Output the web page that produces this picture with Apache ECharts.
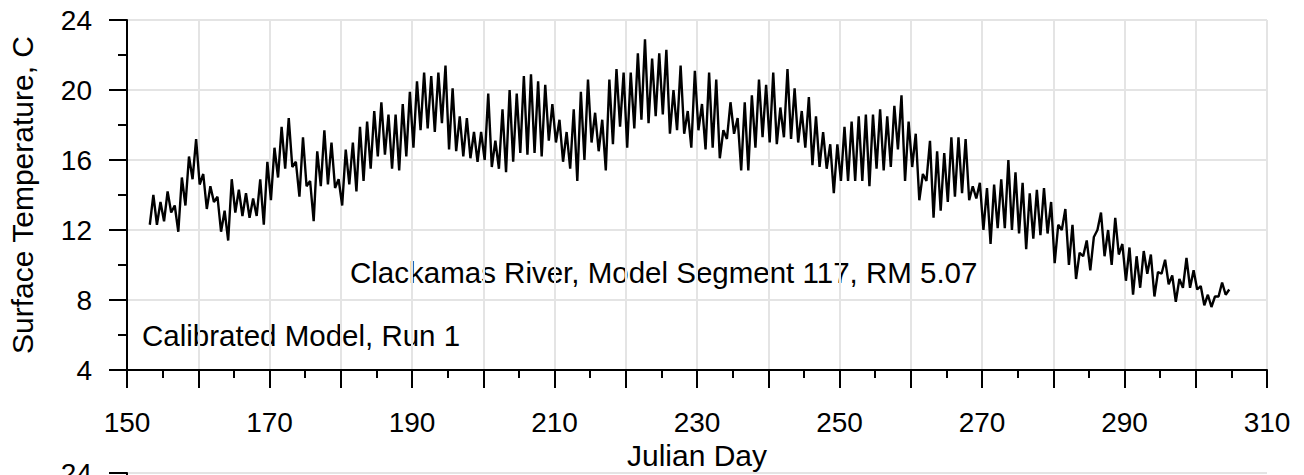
<!DOCTYPE html>
<html>
<head>
<meta charset="utf-8">
<script src="https://cdn.jsdelivr.net/npm/echarts@6/dist/echarts.min.js"></script>
<style>
html,body{margin:0;padding:0;background:#fff;}
#chart{width:1304px;height:475px;}
</style>
</head>
<body>
<div id="chart"></div>
<script>
// ---- data ----
const startDay = 153; // first Julian day of the record
// daily minimum surface temperature (C), days 153..304
const dailyLow = [
  12.3,12.3,12.5,13.0,11.9,13.4,14.9,14.6,13.2,13.6, // 153-162
  11.9,11.4,13.0,12.8,12.7,12.8,12.3,13.7,15.0,15.5, // 163-172
  15.6,13.9,14.5,12.5,14.5,14.6,14.4,13.4,14.6,14.2, // 173-182
  14.8,15.5,16.2,16.3,15.5,15.4,16.2,16.7,17.7,17.8, // 183-192
  17.6,18.1,16.6,16.5,16.2,16.1,15.9,16.0,15.6,15.5, // 193-202
  15.3,15.9,16.4,16.3,16.4,16.2,17.1,17.0,15.9,15.5, // 203-212
  14.8,16.0,17.0,16.5,15.4,16.9,17.9,16.7,17.8,18.3, // 213-222
  18.1,18.5,18.6,17.5,17.7,17.5,16.7,17.7,16.6,16.7, // 223-232
  16.1,17.2,17.5,15.4,15.4,16.7,17.3,17.0,16.9,17.3, // 233-242
  17.2,17.0,16.7,15.7,15.6,15.5,14.1,14.8,14.8,14.8, // 243-252
  14.8,14.5,15.5,15.4,15.6,16.6,14.8,15.6,13.7,14.8, // 253-262
  12.7,13.1,13.6,13.9,14.1,13.7,13.8,12.0,11.2,12.1, // 263-272
  12.1,12.0,11.8,10.9,11.5,11.7,11.8,10.1,12.0,10.0, // 273-282
  9.2,10.5,9.7,12.0,10.5,10.0,10.6,9.1,8.3,8.7,      // 283-292
  9.5,8.2,9.5,8.9,7.9,8.7,8.7,8.6,7.7,7.6,           // 293-302
  8.2,8.3                                            // 303-304
];
// daily maximum surface temperature (C), days 153..304
const dailyHigh = [
  14.0,13.6,14.2,13.4,15.0,16.2,17.2,15.2,14.5,13.9, // 153-162
  13.1,14.9,14.3,14.1,13.8,14.9,15.9,16.7,17.9,18.4, // 163-172
  15.9,17.3,14.8,16.5,17.7,17.0,14.9,16.6,17.0,17.9, // 173-182
  18.2,18.8,19.3,18.6,18.6,19.2,19.9,20.5,21.0,20.8, // 183-192
  21.0,21.4,20.1,18.5,18.4,17.6,17.6,19.8,17.1,18.9, // 193-202
  20.0,19.8,20.8,20.9,20.5,20.3,19.2,18.3,17.6,18.9, // 203-212
  19.9,20.6,18.7,18.3,20.6,21.2,21.0,21.0,22.1,22.9, // 213-222
  21.8,22.1,22.3,20.0,21.4,18.8,21.1,19.2,21.0,20.6, // 223-232
  17.7,19.3,18.4,19.3,19.7,20.6,20.3,21.0,19.0,21.2, // 233-242
  20.1,18.8,19.6,18.5,17.6,16.9,16.9,17.9,18.2,18.5, // 243-252
  18.6,18.6,18.9,18.5,19.1,19.7,18.2,17.5,15.2,17.1, // 253-262
  16.5,16.4,17.3,17.3,17.2,14.5,14.7,14.4,14.6,14.9, // 263-272
  16.0,15.3,14.7,14.1,14.3,14.4,13.6,12.3,13.2,12.3, // 273-282
  10.7,11.4,11.6,13.0,12.0,12.7,11.2,11.0,10.5,10.8, // 283-292
  10.6,9.6,10.3,9.4,9.2,10.4,9.7,8.8,8.3,8.2,        // 293-302
  9.0,8.6                                            // 303-304
];
const xRange = [150, 310];
const yRange = [4, 24];
const xTitle = 'Julian Day';
const yTitle = 'Surface Temperature, C';
const noteRiver = 'Clackamas River, Model Segment 117, RM 5.07';
const noteRun = 'Calibrated Model, Run 1';

// ---- build the series (min in the morning, max in the afternoon) ----
const linePoints = [];
dailyLow.forEach((lo, i) => {
  const d = startDay + i;
  linePoints.push([d + 0.2, lo]);
  linePoints.push([d + 0.7, dailyHigh[i]]);
});

const FONT = '"Liberation Sans", Arial, sans-serif';
const GRID = '#e4e4e4';
const chart = echarts.init(document.getElementById('chart'), null, {renderer: 'svg'});

chart.setOption({
  animation: false,
  backgroundColor: '#fff',
  grid: [
    {left: 127, right: 37, top: 20, height: 350, containLabel: false, outerBoundsMode: 'none'},
    {left: 127, right: 37, top: 473, height: 350, containLabel: false, outerBoundsMode: 'none'}
  ],
  xAxis: [{
    gridIndex: 0, type: 'value', min: xRange[0], max: xRange[1], interval: 10,
    name: xTitle, nameLocation: 'middle', nameGap: 68,
    nameTextStyle: {fontFamily: FONT, fontSize: 30, color: '#000'},
    axisLine: {show: true, onZero: false, lineStyle: {color: '#000', width: 2}},
    axisTick: {show: true, length: 18, lineStyle: {color: '#000', width: 2}},
    minorTick: {show: true, splitNumber: 2, length: 8, lineStyle: {color: '#000', width: 2}},
    axisLabel: {
      margin: 38, fontFamily: FONT, fontSize: 28, color: '#000',
      formatter: v => (Math.round(v) % 20 === 10 ? String(Math.round(v)) : '')
    },
    splitLine: {show: true, lineStyle: {color: GRID, width: 2}}
  }, {
    gridIndex: 1, type: 'value', min: xRange[0], max: xRange[1], show: false
  }],
  yAxis: [{
    gridIndex: 0, type: 'value', min: yRange[0], max: yRange[1], interval: 4,
    name: yTitle, nameLocation: 'middle', nameRotate: 90, nameGap: 90,
    nameTextStyle: {fontFamily: FONT, fontSize: 30, color: '#000'},
    axisLine: {show: true, onZero: false, lineStyle: {color: '#000', width: 2}},
    axisTick: {show: true, length: 18, lineStyle: {color: '#000', width: 2}},
    minorTick: {show: true, splitNumber: 2, length: 9, lineStyle: {color: '#000', width: 2}},
    axisLabel: {margin: 35, fontFamily: FONT, fontSize: 28, color: '#000'},
    splitLine: {show: true, lineStyle: {color: GRID, width: 2}}
  }, {
    gridIndex: 1, type: 'value', min: yRange[0], max: yRange[1], interval: 4,
    axisLine: {show: true, onZero: false, lineStyle: {color: '#000', width: 2}},
    axisTick: {show: true, length: 18, lineStyle: {color: '#000', width: 2}},
    axisLabel: {
      margin: 35, fontFamily: FONT, fontSize: 28, color: '#000',
      formatter: v => (v === yRange[1] ? String(v) : '')
    },
    splitLine: {show: true, lineStyle: {color: GRID, width: 2}}
  }],
  series: [{
    type: 'line', xAxisIndex: 0, yAxisIndex: 0,
    data: linePoints, showSymbol: false, symbol: 'none',
    lineStyle: {color: '#000', width: 2.4}, silent: true
  }],
  graphic: [
    {type: 'text', left: 350, top: 257, style: {text: noteRiver, font: '29.5px ' + FONT, fill: '#000', verticalAlign: 'middle'}},
    {type: 'text', left: 142, top: 320, style: {text: noteRun, font: '29.5px ' + FONT, fill: '#000', verticalAlign: 'middle'}}
  ]
});
</script>
</body>
</html>
